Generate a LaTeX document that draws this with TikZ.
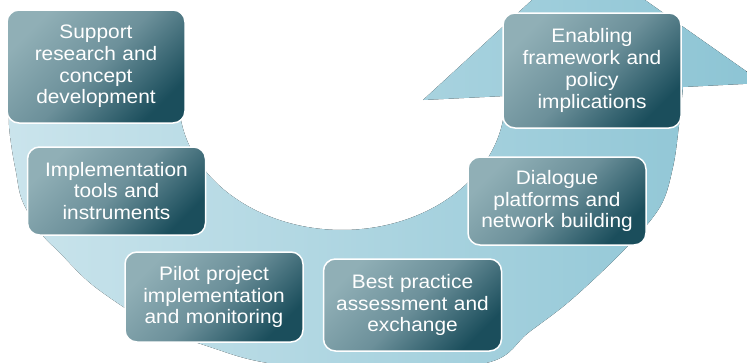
\documentclass[tikz,border=0pt]{standalone}
\usepackage{fontspec}
\setmainfont{Liberation Sans}[FakeStretch=1.07]
\definecolor{boxlight}{HTML}{90AFB6}
\definecolor{boxmid}{HTML}{6C909A}
\definecolor{boxdark}{HTML}{1B4E5C}
\definecolor{arclight}{HTML}{CAE4EC}
\definecolor{arcdark}{HTML}{8CC4D4}
\tikzset{
  stagebox/.style={draw=white, line width=1.5pt, rounded corners=12pt,
    top color=boxlight, bottom color=boxdark, middle color=boxmid, shading angle=45,
    text=white, align=center, inner sep=0pt, text width=172pt,
    minimum width=178pt, font=\fontsize{19.5}{21.8}\selectfont},
  arcband/.style={left color=arclight, right color=arcdark}
}
\begin{document}
\begin{tikzpicture}[x=1pt,y=-1pt]
\useasboundingbox (0,0) rectangle (747,362);
\clip (0,0) rectangle (747,362);
% curved arrow band
\fill[arcband]
  plot[smooth, tension=0.55] coordinates {(9,95) (9,125) (12,150) (16,172) (22,200) (40,232) (60,253) (95,287) (155,326) (210,347) (268,363) (380,374) (490,362) (528,333) (571,300) (624,250) (660,207) (673,167) (679,125) (683,87)}
  -- (763,83) -- (581,-45) -- (423,100) -- (505,96)
  -- plot[domain=-2:180, samples=90, variable=\t] ({342+163*cos(\t)},{100+130*sin(\t)})
  -- cycle;
% stages
\node[stagebox, minimum height=113pt] (b1) at (96,66.5) {Support\\research and\\concept\\development};
\node[stagebox, minimum height=88pt] (b2) at (116.5,191) {Implementation\\tools and\\instruments};
\node[stagebox, minimum height=90pt] (b3) at (214,297) {Pilot project\\implementation\\and monitoring};
\node[stagebox, minimum height=92pt] (b4) at (412.5,305) {Best practice\\assessment and\\exchange};
\node[stagebox, minimum height=88pt] (b5) at (557,201) {Dialogue\\platforms and\\network building};
\node[stagebox, minimum height=115pt] (b6) at (592,70.5) {Enabling\\framework and\\policy\\implications};
\end{tikzpicture}
\end{document}
